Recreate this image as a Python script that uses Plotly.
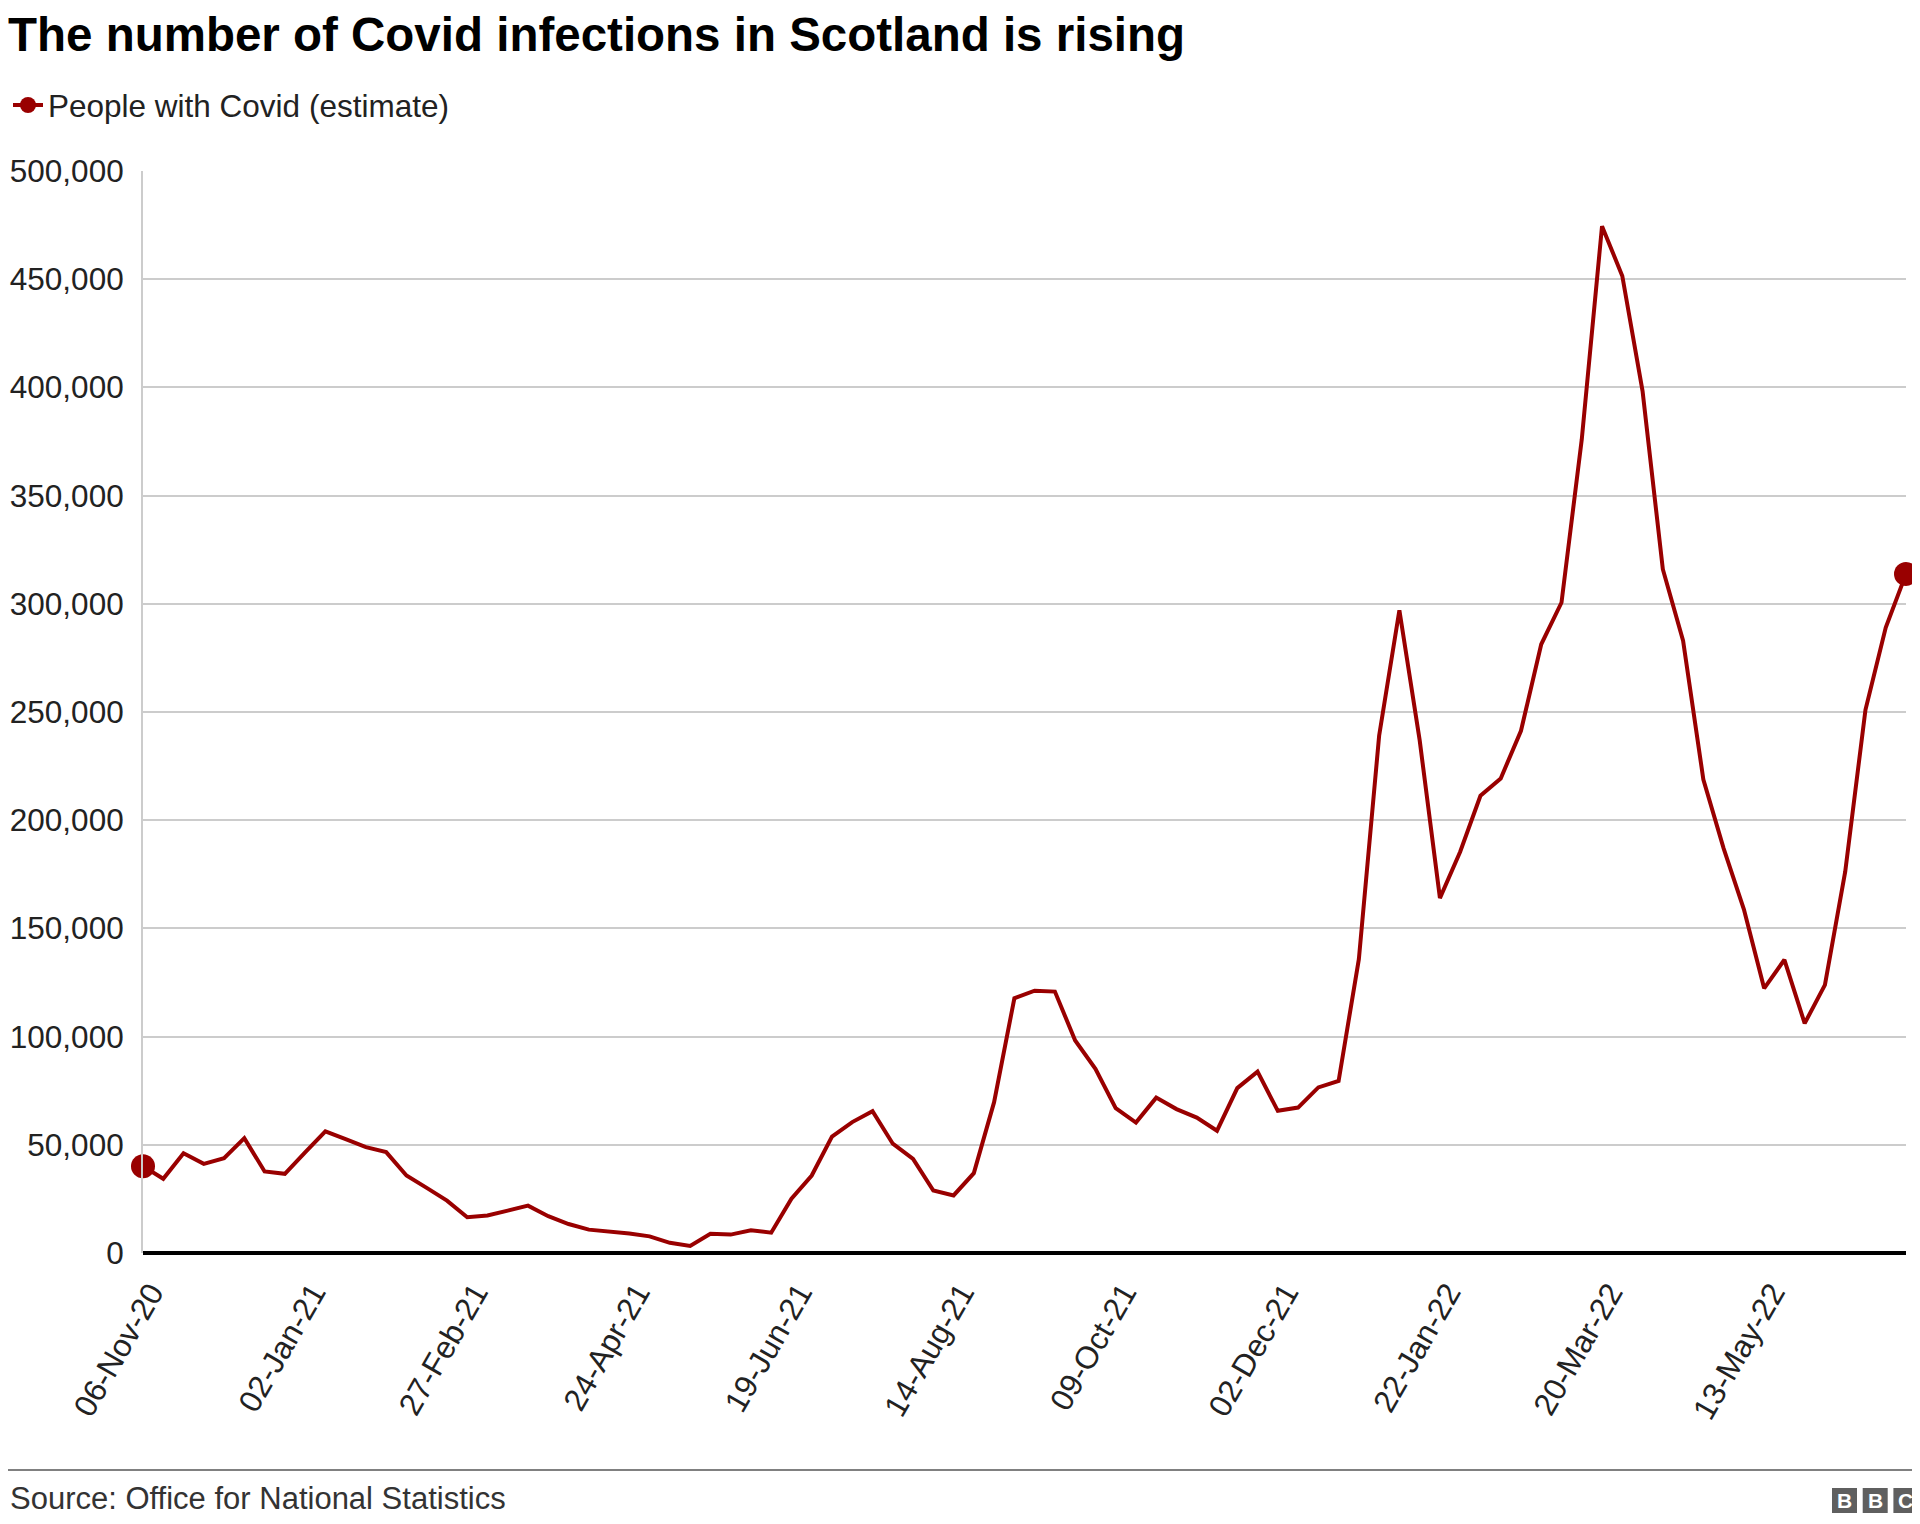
import plotly.graph_objects as go

# ---- data ----
tick_labels = ["06-Nov-20", "02-Jan-21", "27-Feb-21", "24-Apr-21", "19-Jun-21",
               "14-Aug-21", "09-Oct-21", "02-Dec-21", "22-Jan-22", "20-Mar-22", "13-May-22"]
tick_positions = [0, 8, 16, 24, 32, 40, 48, 56, 64, 72, 80]

people_with_covid = [
    40100, 34300, 46100, 41200, 43800, 53100, 37700, 36600, 46500, 56200,
    52600, 48900, 46600, 35800, 30100, 24200, 16500, 17300, 19600, 21900,
    17000, 13400, 10800, 10000, 9000, 7700, 4700, 3300, 8900, 8500,
    10500, 9400, 25100, 35800, 53800, 60500, 65500, 50500, 43500, 28900,
    26600, 36900, 69700, 117700, 121200, 120800, 98200, 85100, 66900, 60300,
    71800, 66500, 62600, 56500, 76200, 83800, 65700, 67200, 76500, 79500,
    135800, 239000, 297000, 237000, 164000, 185400, 211300, 219300, 241300, 281300,
    300600, 376000, 474500, 451500, 398300, 316000, 283000, 218800, 187000, 158800,
    122300, 135500, 106100, 123900, 176200, 251000, 289000, 313800,
]
week_index = list(range(len(people_with_covid)))

y_ticks = list(range(0, 500001, 50000))

title_text = "The number of Covid infections in Scotland is rising"
series_name = "People with Covid (estimate)"
source_text = "Source: Office for National Statistics"

# ---- style ----
RED = "#990000"
FONT = "Liberation Sans, Arial, sans-serif"
OFF = 8                      # page body margin added by the browser
W, H = 1920 - OFF, 1524 - OFF
L, R, T, B = 143 - OFF, 14, 171 - OFF, 271
PW, PH = W - L - R, H - T - B
LABEL_SHIFT = 0.4            # rotated labels sit slightly right of their point


def px_x(x):   # page pixel (reference coords) -> paper x
    return (x - OFF - L) / PW


def px_y(y):   # page pixel (reference coords) -> paper y
    return (H - B - (y - OFF)) / PH


fig = go.Figure()

fig.add_trace(go.Scatter(
    x=week_index, y=people_with_covid, mode="lines",
    line=dict(color=RED, width=4), showlegend=False, hoverinfo="x+y",
))
# end-point markers
fig.add_trace(go.Scatter(
    x=[week_index[0], week_index[-1]],
    y=[people_with_covid[0], people_with_covid[-1]],
    mode="markers", marker=dict(color=RED, size=24),
    showlegend=False, cliponaxis=False,
))
# legend entry
fig.add_trace(go.Scatter(
    x=[None], y=[None], mode="lines+markers", name=series_name,
    line=dict(color=RED, width=4), marker=dict(color=RED, size=22),
))

fig.update_layout(
    width=W, height=H,
    margin=dict(l=L, r=R, t=T, b=B, autoexpand=False),
    paper_bgcolor="white", plot_bgcolor="white",
    font=dict(family=FONT, size=31.5, color="#222222"),
    title=dict(text="<b>" + title_text + "</b>", x=0, xref="container", xanchor="left",
               y=1 - 10 / H, yref="container", yanchor="top", pad=dict(t=0, b=0, l=0, r=0),
               font=dict(family=FONT, size=47.5, color="#000000")),
    legend=dict(x=0, xref="container", xanchor="left",
                y=1 - 97 / H, yref="container", yanchor="middle",
                font=dict(family=FONT, size=31.5, color="#222222"),
                bgcolor="rgba(0,0,0,0)", borderwidth=0, itemwidth=30),
    xaxis=dict(
        range=[0, week_index[-1]], tickmode="array",
        tickvals=[p + LABEL_SHIFT for p in tick_positions], ticktext=tick_labels,
        tickangle=-60,
        showgrid=False, zeroline=False, showline=False, ticks="",
        ticklabelstandoff=14, fixedrange=True,
    ),
    yaxis=dict(
        range=[0, 500000], tickmode="array", tickvals=y_ticks,
        tickformat=",d", showgrid=True, gridcolor="#cccccc", gridwidth=2,
        zeroline=True, zerolinecolor="#000000", zerolinewidth=4,
        showline=True, linecolor="#cccccc", linewidth=2,
        ticks="", ticklabelstandoff=11, fixedrange=True,
    ),
    showlegend=True,
)

# footer: separator line, source, BBC logo
fig.add_shape(type="line", xref="paper", yref="paper",
              x0=px_x(OFF), x1=px_x(1920),
              y0=px_y(1470), y1=px_y(1470),
              line=dict(color="#808080", width=2))
fig.add_annotation(text=source_text, xref="paper", yref="paper",
                   x=px_x(OFF), xanchor="left",
                   y=px_y(1498), yanchor="middle",
                   showarrow=False, font=dict(family=FONT, size=31, color="#333333"))
for i, letter in enumerate(["B", "B", "C"]):
    x0 = 1832 + i * 30.7
    fig.add_shape(type="rect", xref="paper", yref="paper",
                  x0=px_x(x0), x1=px_x(x0 + 25),
                  y0=px_y(1513), y1=px_y(1488),
                  fillcolor="#5f5f5f", line=dict(width=0))
    fig.add_annotation(text="<b>" + letter + "</b>", xref="paper", yref="paper",
                       x=px_x(x0 + 12.5), xanchor="center",
                       y=px_y(1500.5), yanchor="middle",
                       showarrow=False, font=dict(family=FONT, size=21, color="white"))

fig.write_html("out.html")
